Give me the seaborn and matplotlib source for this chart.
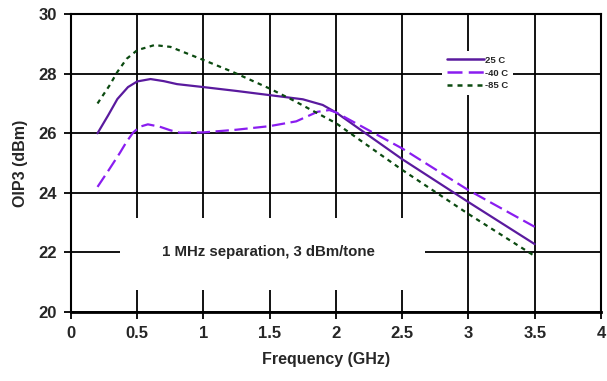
import pandas as pd
import seaborn as sns
import matplotlib.pyplot as plt
from matplotlib.patches import Rectangle

# values
freq_25 = [0.2, 0.28, 0.35, 0.43, 0.5, 0.6, 0.7, 0.8, 1.0, 1.25, 1.5, 1.75, 1.9, 2.0, 2.5, 3.0, 3.5]
oip3_25 = [26.0, 26.6, 27.15, 27.55, 27.74, 27.82, 27.75, 27.65, 27.55, 27.42, 27.28, 27.14, 26.95, 26.7, 25.13, 23.69, 22.28]

freq_m40 = [0.2, 0.29, 0.37, 0.42, 0.47, 0.52, 0.58, 0.67, 0.75, 0.82, 1.0, 1.25, 1.5, 1.7, 1.86, 1.95, 2.0, 2.5, 3.0, 3.5]
oip3_m40 = [24.2, 24.8, 25.35, 25.72, 26.03, 26.22, 26.3, 26.22, 26.1, 26.02, 26.03, 26.12, 26.24, 26.4, 26.72, 26.78, 26.7, 25.49, 24.09, 22.86]

freq_m85 = [0.2, 0.29, 0.35, 0.42, 0.5, 0.63, 0.75, 1.0, 1.22, 1.5, 1.68, 2.0, 2.5, 3.0, 3.5]
oip3_m85 = [27.0, 27.6, 28.06, 28.5, 28.79, 28.96, 28.9, 28.46, 28.06, 27.5, 27.1, 26.34, 24.77, 23.29, 21.88]

labels = ['25 C', '-40 C', '-85 C']
colors = ['#5a1a9e', '#8a1df0', '#0b4a10']
dashes = [(None, None), (6, 2.5), (2, 2)]

note = '1 MHz separation, 3 dBm/tone'

sns.set_theme(style='white')
plt.rcParams['font.family'] = ['Liberation Sans', 'DejaVu Sans']
plt.rcParams['font.weight'] = 'bold'

fig = plt.figure(figsize=(6.07, 3.81), dpi=100)
ax = fig.add_axes([0.117, 0.181, 0.873, 0.782])

series = [(freq_25, oip3_25), (freq_m40, oip3_m40), (freq_m85, oip3_m85)]
for (x, y), lab, col, ds in zip(series, labels, colors, dashes):
    df = pd.DataFrame({'Frequency': x, 'OIP3': y})
    line = sns.lineplot(data=df, x='Frequency', y='OIP3', ax=ax, color=col,
                        linewidth=1.6, label=lab, zorder=3).lines[-1]
    if ds[0] is not None:
        line.set_dashes(ds)

ax.set_xlim(0, 4)
ax.set_ylim(20, 30)
ax.set_xticks([0, 0.5, 1, 1.5, 2, 2.5, 3, 3.5, 4])
ax.set_xticklabels(['0', '0.5', '1', '1.5', '2', '2.5', '3', '3.5', '4'])
ax.set_yticks([20, 22, 24, 26, 28, 30])

ax.grid(True, color='black', linewidth=1.3)
ax.set_axisbelow(True)
for sp in ax.spines.values():
    sp.set_color('black')
    sp.set_linewidth(1.5)
ax.spines['bottom'].set_linewidth(2)

ax.tick_params(axis='both', which='major', direction='out', length=5, width=1.3,
               color='black', labelsize=12, pad=5, left=True, bottom=True)
for t in ax.get_xticklabels() + ax.get_yticklabels():
    t.set_fontweight('bold')

ax.set_xlabel('Frequency (GHz)', fontsize=11.5, fontweight='bold')
ax.set_ylabel('OIP3 (dBm)', fontsize=11.5, fontweight='bold')
ax.xaxis.set_label_coords(0.481, -0.135)
ax.yaxis.set_label_coords(-0.082, 0.5)

# white box behind the note, hiding the grid
ax.add_patch(Rectangle((0.37, 20.74), 2.3, 2.41, facecolor='white',
                       edgecolor='none', zorder=1.5))
ax.text(1.487, 22.0, note, ha='center', va='center', fontsize=10.8,
        fontweight='bold', zorder=4)

leg = ax.legend(loc='upper left', bbox_to_anchor=(0.70, 0.876), fontsize=6.8,
                frameon=True, facecolor='white', edgecolor='none', framealpha=1,
                handlelength=4.0, handletextpad=0.05, labelspacing=0.4,
                borderpad=0.5, borderaxespad=0)
for t in leg.get_texts():
    t.set_fontweight('bold')
for h in leg.get_lines():
    h.set_linewidth(1.8)

fig.savefig('out.png', dpi=100)
